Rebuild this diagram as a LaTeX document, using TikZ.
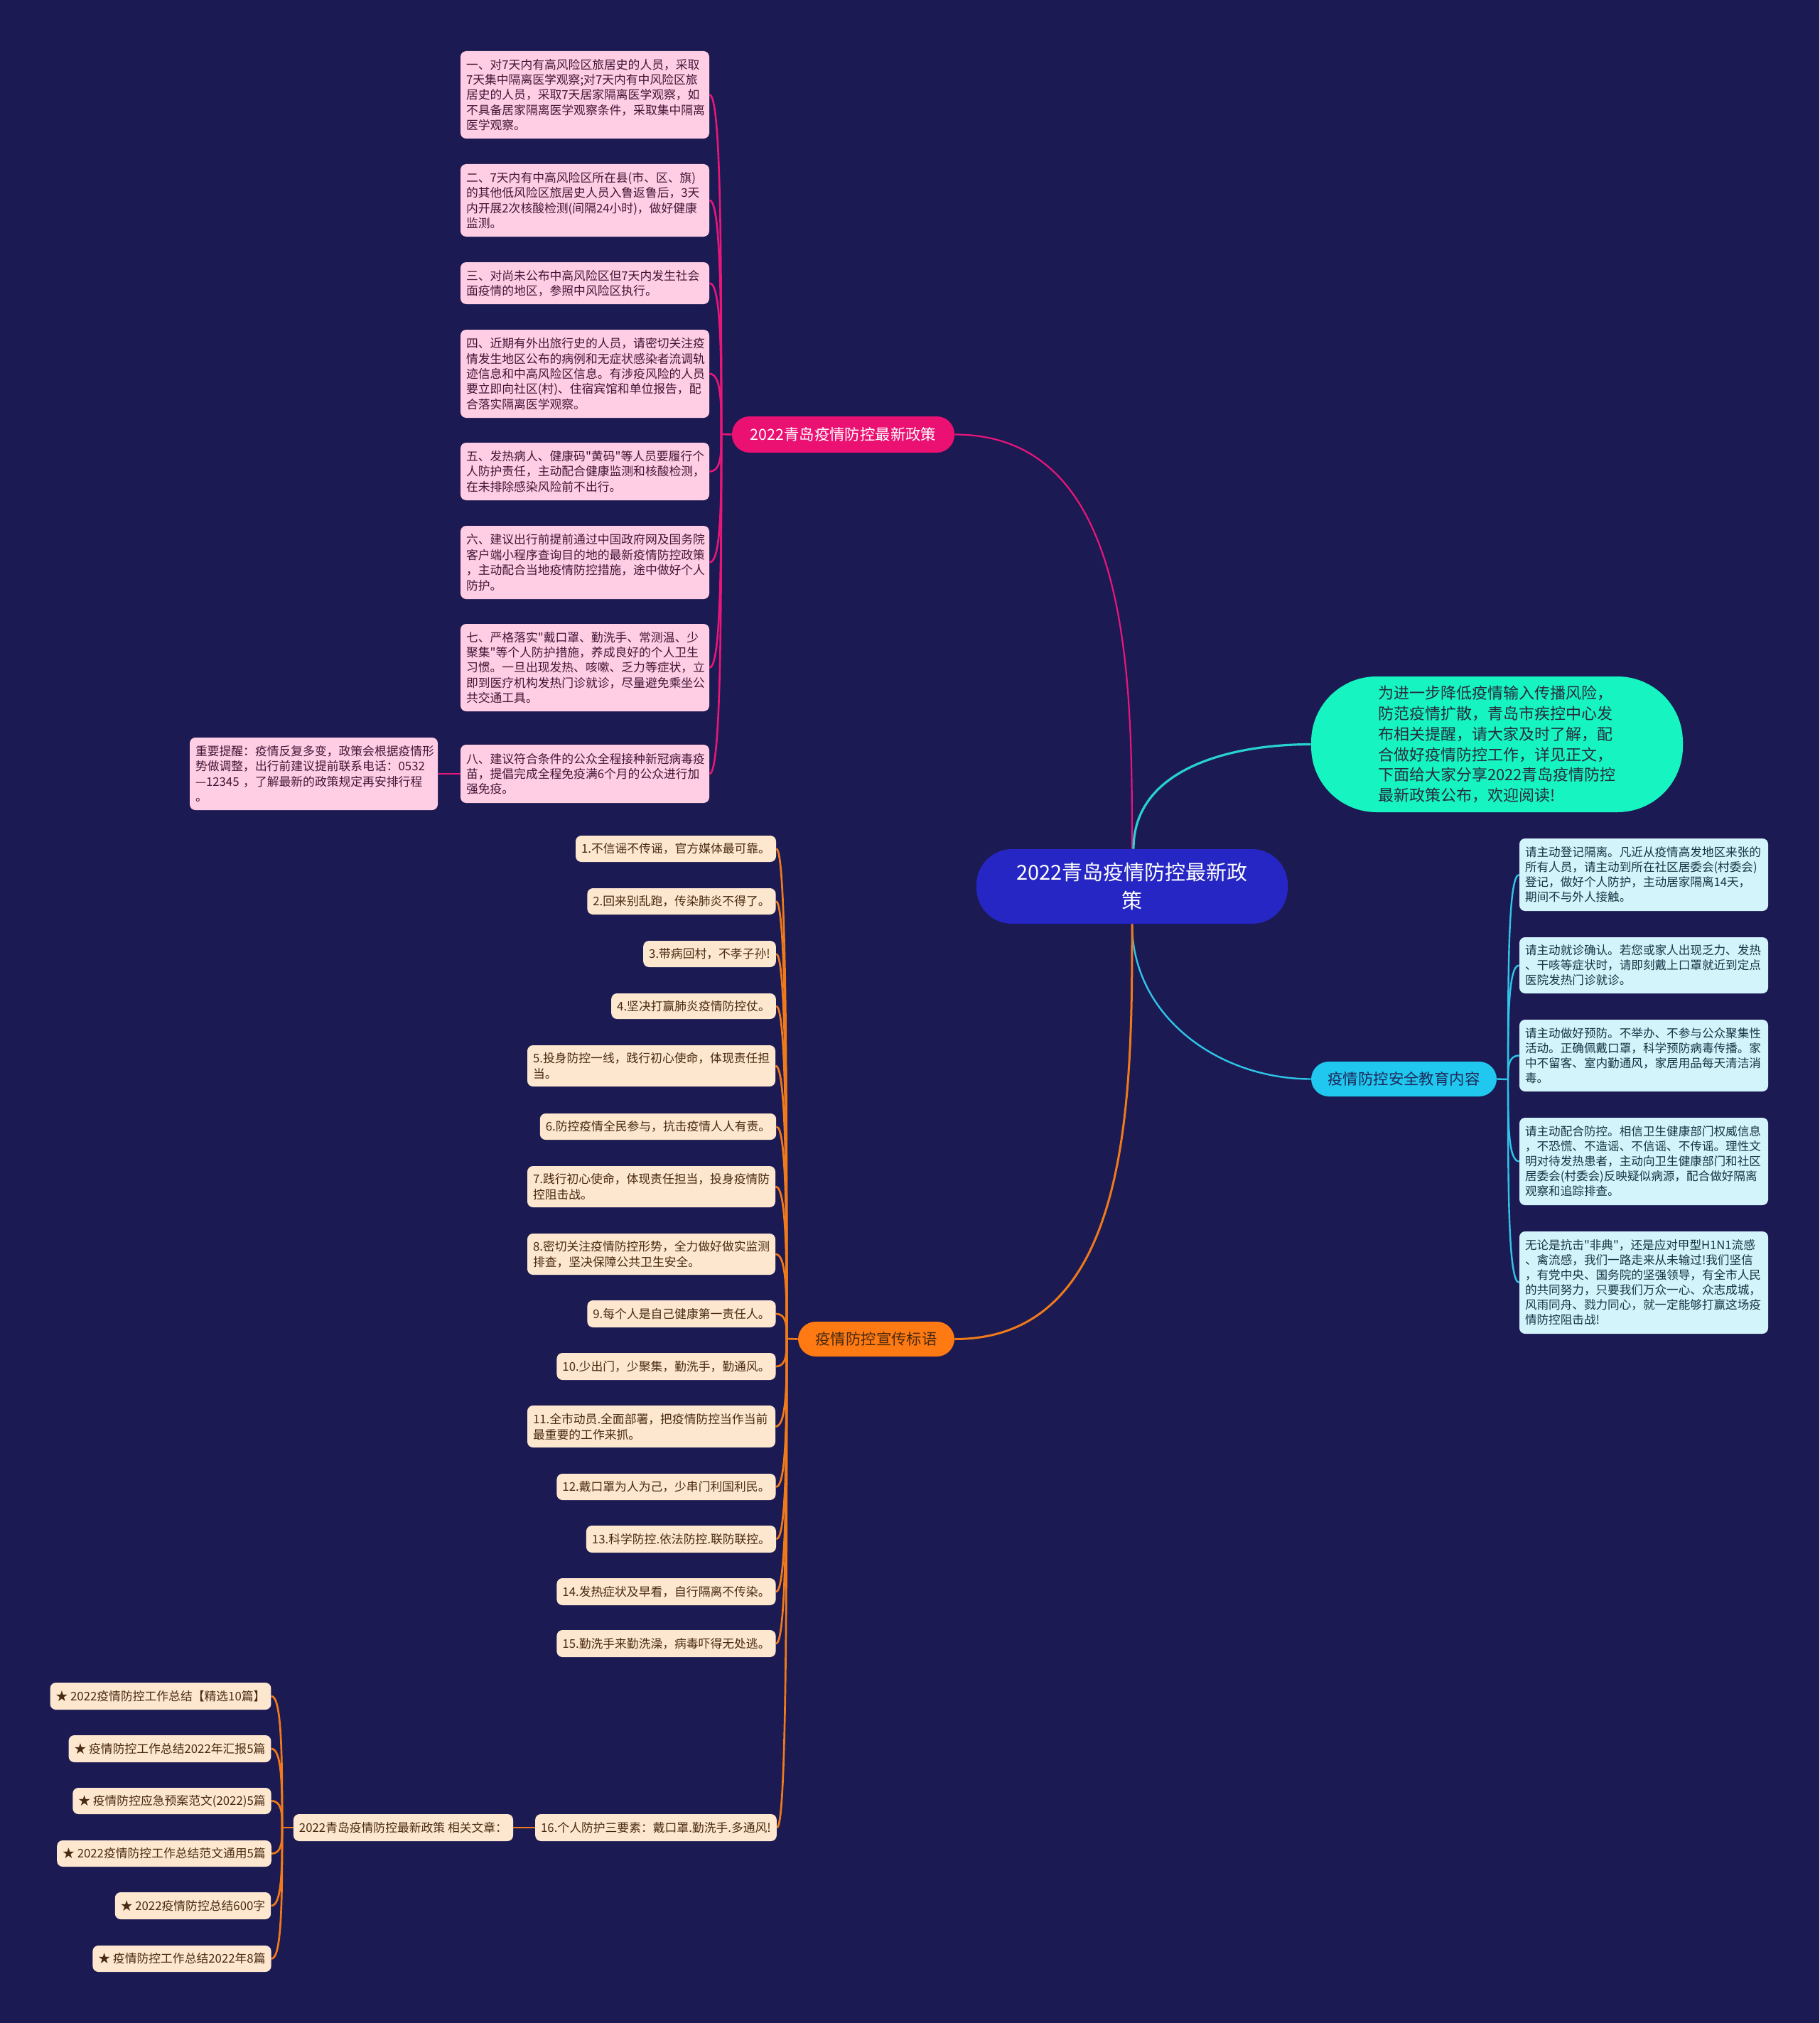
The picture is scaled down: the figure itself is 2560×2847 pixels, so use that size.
\documentclass[tikz,border=0pt]{standalone}
\usepackage{fontspec}
\setmainfont{Noto Sans CJK SC}[Ligatures=TeXOff]
\usetikzlibrary{calc}
\definecolor{bgc}{RGB}{27,26,82}
\definecolor{centerF}{RGB}{38,38,196}
\definecolor{tealF}{RGB}{22,244,194}
\definecolor{tealT}{RGB}{40,44,60}
\definecolor{tealL}{RGB}{40,210,210}
\definecolor{pinkB}{RGB}{234,17,115}
\definecolor{pinkL}{RGB}{232,22,122}
\definecolor{pinkF}{RGB}{255,206,228}
\definecolor{pinkT}{RGB}{66,22,54}
\definecolor{orB}{RGB}{255,122,18}
\definecolor{orL}{RGB}{240,122,26}
\definecolor{orF}{RGB}{253,231,207}
\definecolor{orT}{RGB}{72,42,16}
\definecolor{cyB}{RGB}{32,200,240}
\definecolor{cyL}{RGB}{48,196,232}
\definecolor{cyF}{RGB}{212,244,251}
\definecolor{cyT}{RGB}{22,52,68}
\definecolor{cyBT}{RGB}{30,40,90}
\pgfdeclarelayer{back}
\pgfdeclarelayer{lines}
\pgfsetlayers{back,lines,main}
\newcommand\mmleaf[7]{%
  \pgfmathsetmacro\mmw{(#4-#2)/2}%
  \pgfmathsetmacro\mmh{(#5-#3)/2}%
  \pgfmathsetmacro\mmt{(#4-#2)/2-8}%
  \node[#6,minimum width=\mmw pt,minimum height=\mmh pt,text width=\mmt pt] (#1) at ({(#2+#4)/2},{(#3+#5)/2}) {#7};%
}
\newcommand\mmone[7]{%
  \pgfmathsetmacro\mmw{(#4-#2)/2}%
  \pgfmathsetmacro\mmh{(#5-#3)/2}%
  \node[#6,minimum width=\mmw pt,minimum height=\mmh pt] (#1) at ({(#2+#4)/2},{(#3+#5)/2}) {#7};%
}
% child curve: junction, child anchor
\newcommand\mmcurve[3]{%
  \draw[#1] (#2) .. controls ($(#2)!0.5!(#2|-#3)$) and (#2|-#3) .. (#3);%
}
\begin{document}
\begin{tikzpicture}[x=0.5pt,y=-0.5pt,
  leafbase/.style={rounded corners=4pt,inner xsep=4pt,inner ysep=1pt,align=left,font=\fontsize{8.4pt}{10.7pt}\selectfont},
  pinkleaf/.style={leafbase,fill=pinkF,text=pinkT},
  orleaf/.style={leafbase,fill=orF,text=orT,font=\fontsize{8.4pt}{11pt}\selectfont},
  cyleaf/.style={leafbase,fill=cyF,text=cyT,font=\fontsize{8.3pt}{10.5pt}\selectfont},
  branch/.style={rounded corners=12.4pt,inner sep=0pt,font=\fontsize{10.7pt}{12pt}\selectfont},
  pinkline/.style={draw=pinkL,line width=1.3pt},
  orline/.style={draw=orL,line width=1.35pt},
  cyline/.style={draw=cyL,line width=1.2pt}]
\begin{pgfonlayer}{back}
\fill[bgc] (0,0) rectangle (2560,2847);
\end{pgfonlayer}
\useasboundingbox (0,0) rectangle (2560,2847);

% center and main branches
\mmone{C}{1374}{1195}{1812}{1300}{fill=centerF,text=white,rounded corners=25pt,align=center,inner sep=0pt,font=\fontsize{14.5pt}{20pt}\selectfont}{2022青岛疫情防控最新政\\策}
\mmone{T}{1845}{952}{2368}{1143}{fill=tealF,text=tealT,rounded corners=46pt,align=left,inner sep=0pt,font=\fontsize{11pt}{14.35pt}\selectfont}{为进一步降低疫情输入传播风险，\\防范疫情扩散，青岛市疾控中心发\\布相关提醒，请大家及时了解，配\\合做好疫情防控工作，详见正文，\\下面给大家分享2022青岛疫情防控\\最新政策公布，欢迎阅读!}
\mmone{pb}{1030}{586}{1343}{637}{branch,fill=pinkB,text=white}{2022青岛疫情防控最新政策}
\mmone{ob}{1123}{1860}{1343}{1909}{branch,fill=orB,text=orT}{疫情防控宣传标语}
\mmone{cb}{1845}{1494}{2106}{1543}{branch,fill=cyB,text=cyBT}{疫情防控安全教育内容}

% pink leaves
\mmleaf{p1}{648}{72}{998}{195}{pinkleaf}{一、对7天内有高风险区旅居史的人员，采取\\7天集中隔离医学观察;对7天内有中风险区旅\\居史的人员，采取7天居家隔离医学观察，如\\不具备居家隔离医学观察条件，采取集中隔离\\医学观察。}
\mmleaf{p2}{648}{231}{998}{333}{pinkleaf}{二、7天内有中高风险区所在县(市、区、旗)\\的其他低风险区旅居史人员入鲁返鲁后，3天\\内开展2次核酸检测(间隔24小时)，做好健康\\监测。}
\mmleaf{p3}{648}{369}{998}{428}{pinkleaf}{三、对尚未公布中高风险区但7天内发生社会\\面疫情的地区，参照中风险区执行。}
\mmleaf{p4}{648}{464}{998}{588}{pinkleaf}{四、近期有外出旅行史的人员，请密切关注疫\\情发生地区公布的病例和无症状感染者流调轨\\迹信息和中高风险区信息。有涉疫风险的人员\\要立即向社区(村)、住宿宾馆和单位报告，配\\合落实隔离医学观察。}
\mmleaf{p5}{648}{623}{998}{704}{pinkleaf}{五、发热病人、健康码"黄码"等人员要履行个\\人防护责任，主动配合健康监测和核酸检测，\\在未排除感染风险前不出行。}
\mmleaf{p6}{648}{740}{998}{843}{pinkleaf}{六、建议出行前提前通过中国政府网及国务院\\客户端小程序查询目的地的最新疫情防控政策\\，主动配合当地疫情防控措施，途中做好个人\\防护。}
\mmleaf{p7}{648}{878}{998}{1001}{pinkleaf}{七、严格落实"戴口罩、勤洗手、常测温、少\\聚集"等个人防护措施，养成良好的个人卫生\\习惯。一旦出现发热、咳嗽、乏力等症状，立\\即到医疗机构发热门诊就诊，尽量避免乘坐公\\共交通工具。}
\mmleaf{p8}{648}{1048}{998}{1130}{pinkleaf}{八、建议符合条件的公众全程接种新冠病毒疫\\苗，提倡完成全程免疫满6个月的公众进行加\\强免疫。}
\mmleaf{note}{267}{1038}{616}{1140}{pinkleaf}{重要提醒：疫情反复多变，政策会根据疫情形\\势做调整，出行前建议提前联系电话：0532\\—12345 ，了解最新的政策规定再安排行程\\。}

% orange leaves
\mmone{o1}{811}{1176}{1091}{1213}{orleaf}{1.不信谣不传谣，官方媒体最可靠。}
\mmone{o2}{827}{1250}{1091}{1287}{orleaf}{2.回来别乱跑，传染肺炎不得了。}
\mmone{o3}{906}{1324}{1091}{1361}{orleaf}{3.带病回村，不孝子孙!}
\mmone{o4}{861}{1398}{1091}{1434}{orleaf}{4.坚决打赢肺炎疫情防控仗。}
\mmleaf{o5}{742}{1471}{1091}{1529}{orleaf}{5.投身防控一线，践行初心使命，体现责任担\\当。}
\mmone{o6}{761}{1567}{1091}{1604}{orleaf}{6.防控疫情全民参与，抗击疫情人人有责。}
\mmleaf{o7}{742}{1641}{1091}{1699}{orleaf}{7.践行初心使命，体现责任担当，投身疫情防\\控阻击战。}
\mmleaf{o8}{742}{1736}{1091}{1794}{orleaf}{8.密切关注疫情防控形势，全力做好做实监测\\排查，坚决保障公共卫生安全。}
\mmone{o9}{827}{1830}{1091}{1868}{orleaf}{9.每个人是自己健康第一责任人。}
\mmone{o10}{784}{1904}{1091}{1942}{orleaf}{10.少出门，少聚集，勤洗手，勤通风。}
\mmleaf{o11}{742}{1978}{1091}{2037}{orleaf}{11.全市动员.全面部署，把疫情防控当作当前\\最重要的工作来抓。}
\mmone{o12}{784}{2074}{1091}{2111}{orleaf}{12.戴口罩为人为己，少串门利国利民。}
\mmone{o13}{826}{2147}{1091}{2185}{orleaf}{13.科学防控.依法防控.联防联控。}
\mmone{o14}{784}{2221}{1091}{2259}{orleaf}{14.发热症状及早看，自行隔离不传染。}
\mmone{o15}{784}{2294}{1091}{2332}{orleaf}{15.勤洗手来勤洗澡，病毒吓得无处逃。}
\mmone{o16}{755}{2553}{1091}{2591}{orleaf}{16.个人防护三要素：戴口罩.勤洗手.多通风!}
\mmone{rel}{413}{2553}{722}{2591}{orleaf}{2022青岛疫情防控最新政策 相关文章：}
\mmone{s1}{72}{2368}{380}{2406}{orleaf}{★ 2022疫情防控工作总结【精选10篇】}
\mmone{s2}{98}{2442}{380}{2480}{orleaf}{★ 疫情防控工作总结2022年汇报5篇}
\mmone{s3}{104}{2516}{380}{2553}{orleaf}{★ 疫情防控应急预案范文(2022)5篇}
\mmone{s4}{82}{2590}{380}{2627}{orleaf}{★ 2022疫情防控工作总结范文通用5篇}
\mmone{s5}{163}{2663}{380}{2701}{orleaf}{★ 2022疫情防控总结600字}
\mmone{s6}{132}{2738}{380}{2775}{orleaf}{★ 疫情防控工作总结2022年8篇}

% cyan leaves
\mmleaf{c1}{2138}{1180}{2488}{1282}{cyleaf}{请主动登记隔离。凡近从疫情高发地区来张的\\所有人员，请主动到所在社区居委会(村委会)\\登记，做好个人防护，主动居家隔离14天，\\期间不与外人接触。}
\mmleaf{c2}{2138}{1319}{2488}{1398}{cyleaf}{请主动就诊确认。若您或家人出现乏力、发热\\、干咳等症状时，请即刻戴上口罩就近到定点\\医院发热门诊就诊。}
\mmleaf{c3}{2138}{1435}{2488}{1536}{cyleaf}{请主动做好预防。不举办、不参与公众聚集性\\活动。正确佩戴口罩，科学预防病毒传播。家\\中不留客、室内勤通风，家居用品每天清洁消\\毒。}
\mmleaf{c4}{2138}{1573}{2488}{1696}{cyleaf}{请主动配合防控。相信卫生健康部门权威信息\\，不恐慌、不造谣、不信谣、不传谣。理性文\\明对待发热患者，主动向卫生健康部门和社区\\居委会(村委会)反映疑似病源，配合做好隔离\\观察和追踪排查。}
\mmleaf{c5}{2138}{1733}{2488}{1877}{cyleaf}{无论是抗击"非典"，还是应对甲型H1N1流感\\、禽流感，我们一路走来从未输过!我们坚信\\，有党中央、国务院的坚强领导，有全市人民\\的共同努力，只要我们万众一心、众志成城，\\风雨同舟、戮力同心，就一定能够打赢这场疫\\情防控阻击战!}

% junctions
\coordinate (Jp) at (1015,611);
\coordinate (Jo) at (1107,1884);
\coordinate (Jc) at (2122,1519);
\coordinate (Js) at (397,2572);

% connectors
\begin{pgfonlayer}{lines}
\draw[pinkline,line width=1.1pt] (C.north) to[out=90,in=0] (pb.east);
\draw[draw=tealL,line width=1.6pt] ([xshift=1pt]C.north) to[out=90,in=180] (T.west);
\draw[cyline] (C.south) to[out=-90,in=180] (cb.west);
\draw[orline,line width=1.5pt] (C.south) to[out=-90,in=0] (ob.east);
\draw[pinkline] (pb.west) -- (Jp);
\foreach \i in {1,...,8} {\mmcurve{pinkline}{Jp}{p\i.east}}
\draw[pinkline] (p8.west) -- (note.east);
\draw[orline] (ob.west) -- (Jo);
\foreach \i in {1,...,16} {\mmcurve{orline}{Jo}{o\i.east}}
\draw[orline] (o16.west) -- (rel.east);
\draw[orline] (rel.west) -- (Js);
\foreach \i in {1,...,6} {\mmcurve{orline}{Js}{s\i.east}}
\draw[cyline] (cb.east) -- (Jc);
\foreach \i in {1,...,5} {\mmcurve{cyline}{Jc}{c\i.west}}
\end{pgfonlayer}
\end{tikzpicture}
\end{document}
